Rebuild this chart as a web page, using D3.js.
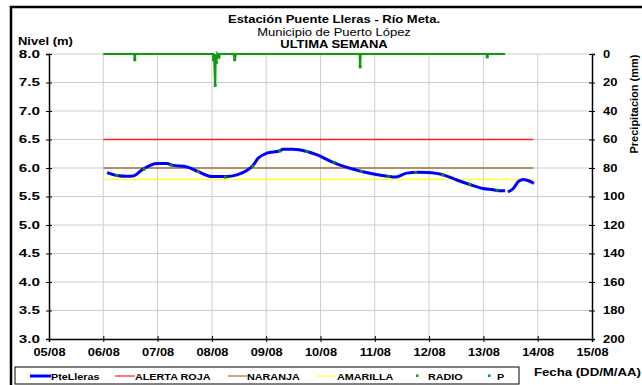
<!DOCTYPE html>
<html><head><meta charset="utf-8">
<script src="https://cdn.jsdelivr.net/npm/d3@7"></script>
<style>body{margin:0;background:#fff}svg{display:block;font-family:"Liberation Sans",Arial,sans-serif}</style>
</head><body><svg id="c" width="642" height="385"></svg>
<script>
const xTickLabels = ["05/08","06/08","07/08","08/08","09/08","10/08","11/08","12/08","13/08","14/08","15/08"];
const yLeftTicks = [3.0,3.5,4.0,4.5,5.0,5.5,6.0,6.5,7.0,7.5,8.0];
const yRightTicks = [0,20,40,60,80,100,120,140,160,180,200];
const levelDays = [6.07,6.25,6.44,6.55,6.73,6.99,7.17,7.27,7.54,7.74,8.00,8.28,8.46,8.65,8.76,8.85,9.01,9.25,9.31,9.49,9.75,9.94,10.23,10.49,10.76,11.00,11.24,11.37,11.59,11.78,11.96,12.26,12.51,12.75,12.99,13.18,13.31,13.40,13.42,13.45,13.55,13.64,13.73,13.82,13.93];
const levelValues = [5.92,5.87,5.855,5.86,5.98,6.08,6.08,6.05,6.02,5.94,5.85,5.85,5.88,5.96,6.05,6.17,6.26,6.30,6.33,6.33,6.29,6.23,6.10,6.01,5.94,5.89,5.855,5.84,5.91,5.925,5.92,5.88,5.79,5.71,5.64,5.62,5.60,5.60,null,5.58,5.64,5.76,5.80,5.78,5.73];
const radioDays = [6.25,6.75,7.25,7.75,8.25,8.75,9.25,9.75,10.25,10.75,11.25,11.75,12.25,12.75,13.25];
const radioValues = [5.87,5.98,6.05,5.94,5.84,6.03,6.30,6.29,6.10,5.94,5.85,5.92,5.88,5.71,5.61];
const pDays = [6.0,6.57,6.58,6.59,8.02,8.03,8.04,8.06,8.07,8.08,8.10,8.13,8.14,8.40,8.42,8.44,10.72,10.73,10.74,13.06,13.07,13.08,13.40];
const pValues = [0,0,4,0,0,4,0,22,0,6,0,2,0,0,4,0,0,9,0,0,2,0,0];
const thresholdNames = ["ALERTA ROJA","NARANJA","AMARILLA"];
const thresholdValues = [6.5,6.0,5.8];
const thresholdColors = ["#ff2020","#a0703a","#ffff33"];
const thresholdRange = [6.0,13.92];

const svg = d3.select("#c");
const L=49,R=592,T=54,B=339;
const x = d3.scaleLinear().domain([5,15]).range([L,R]);
const y = d3.scaleLinear().domain([3,8]).range([B,T]);
const y2 = d3.scaleLinear().domain([0,200]).range([T,B]);
const FONT = "Liberation Sans, Arial, sans-serif";

// outer frame
svg.append("path").attr("d","M11,385 V7 H642").attr("fill","none").attr("stroke","#000").attr("stroke-width",2.5);

// grid
const g = svg.append("g");
d3.range(5,16).forEach(d=>{ if(d>5 && d<15) g.append("line").attr("x1",x(d)).attr("x2",x(d)).attr("y1",T).attr("y2",B).attr("stroke","#cfcfcf").attr("stroke-width",1);});
yLeftTicks.forEach(v=>{ if(v>3) g.append("line").attr("x1",L).attr("x2",R).attr("y1",y(v)).attr("y2",y(v)).attr("stroke","#cfcfcf").attr("stroke-width",1);});

// axes
const fmt = d3.format(".1f");
const axL = svg.append("g").attr("transform",`translate(${L},0)`).call(d3.axisLeft(y).tickValues(yLeftTicks).tickFormat(fmt).tickSize(3).tickPadding(3.2));
axL.selectAll(".tick line").attr("x2",3).attr("x1",-3);
const axR = svg.append("g").attr("transform",`translate(${R},0)`).call(d3.axisRight(y2).tickValues(yRightTicks).tickSize(3).tickPadding(5.5));
axR.selectAll(".tick line").attr("x1",-3).attr("x2",3);
const axB = svg.append("g").attr("transform",`translate(0,${B})`).call(d3.axisBottom(x).tickValues(d3.range(5,16)).tickFormat((d,i)=>xTickLabels[i]).tickSize(3).tickPadding(7));
axB.selectAll(".tick line").attr("y1",-3).attr("y2",3);
[axL,axR,axB].forEach(a=>{a.select(".domain").attr("stroke","#000").attr("stroke-width",1.5);a.selectAll("text").attr("font-size",10).attr("font-weight","bold").attr("fill","#000").attr("font-family",FONT);});
axL.selectAll("text").attr("font-size",10.5).attr("transform","scale(1.45,1)");
axR.selectAll("text").attr("transform","scale(1.3,1)");
axB.selectAll("text").attr("transform","scale(1.28,1)").attr("x",0);

// thresholds
thresholdValues.forEach((v,i)=>{
  svg.append("line").attr("x1",x(thresholdRange[0])).attr("x2",x(thresholdRange[1])).attr("y1",y(v)).attr("y2",y(v)).attr("stroke",thresholdColors[i]).attr("stroke-width",1.5);
});

// precipitation
const pData = pDays.map((d,i)=>[d,pValues[i]]);
svg.append("path").datum(pData).attr("d",d3.line().x(d=>x(d[0])).y(d=>y2(d[1]))).attr("fill","none").attr("stroke","#119911").attr("stroke-width",2.2);
svg.selectAll(".pm").data(pData.filter(d=>d[1]>0)).enter().append("rect").attr("x",d=>x(d[0])-1.5).attr("y",d=>y2(d[1])-1.5).attr("width",3).attr("height",3).attr("fill","#119911");

// level line
const lvl = levelDays.map((d,i)=>[d,levelValues[i]]);
svg.append("path").datum(lvl).attr("d",d3.line().defined(d=>d[1]!=null).x(d=>x(d[0])).y(d=>y(d[1])).curve(d3.curveMonotoneX)).attr("fill","none").attr("stroke","#0000ff").attr("stroke-width",3);

// radio points
svg.selectAll(".rp").data(radioDays.map((d,i)=>[d,radioValues[i]])).enter().append("rect").attr("x",d=>x(d[0])-1.5).attr("y",d=>y(d[1])-1.5).attr("width",3).attr("height",3).attr("fill","#118811");

// stretched text helper
function stext(parent, px, py, sx, str, size, bold, anchor){
  return parent.append("text").attr("transform",`translate(${px},${py}) scale(${sx},1)`)
    .attr("text-anchor",anchor||"start").attr("font-size",size).attr("font-weight",bold?"bold":"normal")
    .attr("font-family",FONT).attr("fill","#000").text(str);
}
const t = svg.append("g");
stext(t,334,23,1.3,"Estación Puente Lleras - Río Meta.",10,true,"middle");
stext(t,334,35.5,1.3,"Municipio de Puerto López",10,false,"middle");
stext(t,334,47.5,1.3,"ULTIMA SEMANA",10,true,"middle");
stext(t,18,44.5,1.3,"Nivel (m)",10,true,"start");
t.append("text").attr("transform","translate(638,104) rotate(-90)").attr("text-anchor","middle").attr("font-size",11).attr("font-weight","bold").attr("font-family",FONT).text("Precipitacion (mm)");
stext(t,534,376,1.2,"Fecha (DD/M/AA)",11,true,"start");

// legend
const lg = svg.append("g");
lg.append("rect").attr("x",15).attr("y",367).attr("width",504).attr("height",17).attr("fill","#fff").attr("stroke","#000").attr("stroke-width",1);
const legNames = ["PteLleras"].concat(thresholdNames);
const legColors = ["#0000ff"].concat(thresholdColors);
const legLineX = [30,115,228,317];
const legTextX = [51,135,247,337];
const legW = [3,1.2,1.2,1.2];
legNames.forEach((n,i)=>{
  lg.append("line").attr("x1",legLineX[i]).attr("x2",legTextX[i]).attr("y1",376).attr("y2",376).attr("stroke",legColors[i]).attr("stroke-width",legW[i]);
  stext(lg,legTextX[i],380,1.27,n,8.5,true,"start");
});
[["RADIO",417,428],["P",489,497]].forEach(([n,px,tx])=>{
  lg.append("rect").attr("x",px-1).attr("y",374.5).attr("width",2.5).attr("height",2.5).attr("fill","#119911");
  stext(lg,tx,380,1.27,n,8.5,true,"start");
});
</script></body></html>
